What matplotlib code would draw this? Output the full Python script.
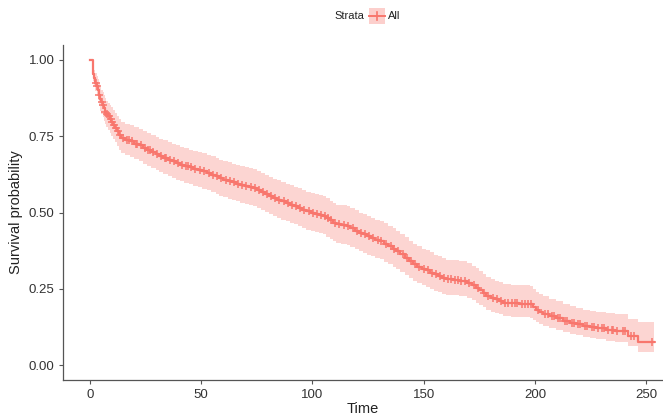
import numpy as np
import matplotlib
matplotlib.use("Agg")
import matplotlib.pyplot as plt
from matplotlib.patches import Rectangle
from matplotlib.lines import Line2D

plt.rcParams['font.family'] = ['Liberation Sans', 'DejaVu Sans']

# Kaplan-Meier estimate: step times, survival, CI band
event_time = [0, 1.5, 2.0, 2.4, 3.0, 3.7, 4.1, 4.5, 5.1, 5.7, 6.2, 6.7, 7.4, 8.1, 8.9, 9.7,
              10.4, 11.2, 12.2, 13.2, 14.2, 16.0, 18.0, 20.0, 22.0, 24.0, 25.5, 27.5, 29.5,
              31.0, 32.9, 35.0, 37.0, 38.8, 40.4, 42.5, 44.5, 46.5, 48.5, 50.5, 52.4, 54.5,
              56.5, 58.2, 59.9, 62.0, 64.0, 65.8, 67.4, 69.5, 71.5, 73.2, 74.9, 76.8, 78.5,
              80.5, 82.3, 84.2, 86.0, 88.0, 89.8, 91.5, 93.5, 95.5, 97.3, 99.2, 101.0, 103.0,
              104.8, 106.3, 107.8, 109.3, 110.8, 113.0, 115.3, 117.0, 119.0, 121.0, 122.7,
              124.5, 126.5, 128.3, 130.2, 132.0, 134.0, 136.0, 137.7, 139.5, 141.5, 143.3,
              145.2, 147.0, 149.0, 151.0, 152.7, 154.5, 156.5, 158.3, 160.2, 163.0, 166.0,
              167.6, 169.5, 171.5, 173.6, 175.0, 176.5, 178.1, 180.0, 182.0, 184.0, 185.6,
              189.0, 193.0, 197.6, 199.0, 200.5, 202.0, 203.5, 206.5, 209.5, 212.5, 215.5,
              218.5, 221.5, 224.5, 227.5, 232.0, 236.0, 238.0, 241.7, 246.2, 253.3]
surv = [1.000, 0.954, 0.940, 0.926, 0.914, 0.902, 0.886, 0.871, 0.862, 0.853, 0.842, 0.831,
        0.823, 0.815, 0.806, 0.798, 0.788, 0.777, 0.766, 0.755, 0.744, 0.739, 0.733, 0.726,
        0.720, 0.712, 0.706, 0.699, 0.692, 0.686, 0.679, 0.673, 0.668, 0.662, 0.657, 0.652,
        0.648, 0.644, 0.640, 0.635, 0.630, 0.624, 0.619, 0.613, 0.608, 0.603, 0.599, 0.595,
        0.591, 0.587, 0.583, 0.579, 0.575, 0.568, 0.561, 0.554, 0.548, 0.542, 0.537, 0.531,
        0.526, 0.521, 0.515, 0.509, 0.504, 0.500, 0.496, 0.492, 0.488, 0.481, 0.474, 0.467,
        0.461, 0.458, 0.455, 0.448, 0.441, 0.434, 0.428, 0.422, 0.417, 0.411, 0.406, 0.398,
        0.390, 0.382, 0.374, 0.363, 0.352, 0.341, 0.330, 0.323, 0.316, 0.310, 0.303, 0.297,
        0.292, 0.286, 0.281, 0.279, 0.277, 0.276, 0.269, 0.262, 0.254, 0.245, 0.236, 0.226,
        0.220, 0.215, 0.210, 0.205, 0.203, 0.201, 0.199, 0.190, 0.182, 0.174, 0.167, 0.160,
        0.153, 0.146, 0.139, 0.134, 0.129, 0.124, 0.120, 0.116, 0.113, 0.112, 0.096, 0.076,
        0.076]
lower = [1.000, 0.930, 0.913, 0.897, 0.882, 0.868, 0.850, 0.834, 0.823, 0.813, 0.801, 0.789,
         0.780, 0.771, 0.761, 0.752, 0.741, 0.730, 0.718, 0.706, 0.695, 0.689, 0.682, 0.675,
         0.668, 0.660, 0.653, 0.646, 0.638, 0.632, 0.625, 0.618, 0.613, 0.607, 0.602, 0.596,
         0.592, 0.588, 0.584, 0.578, 0.573, 0.567, 0.561, 0.555, 0.550, 0.545, 0.541, 0.537,
         0.532, 0.528, 0.524, 0.520, 0.516, 0.509, 0.502, 0.495, 0.489, 0.483, 0.477, 0.471,
         0.466, 0.461, 0.455, 0.449, 0.444, 0.440, 0.436, 0.432, 0.428, 0.421, 0.414, 0.407,
         0.401, 0.398, 0.395, 0.388, 0.381, 0.374, 0.368, 0.362, 0.357, 0.351, 0.346, 0.339,
         0.331, 0.323, 0.315, 0.305, 0.294, 0.284, 0.274, 0.268, 0.261, 0.256, 0.250, 0.244,
         0.240, 0.234, 0.230, 0.228, 0.226, 0.225, 0.219, 0.212, 0.205, 0.197, 0.189, 0.180,
         0.175, 0.170, 0.166, 0.161, 0.159, 0.157, 0.155, 0.147, 0.140, 0.133, 0.127, 0.121,
         0.115, 0.109, 0.102, 0.097, 0.093, 0.088, 0.084, 0.080, 0.077, 0.076, 0.061, 0.044,
         0.044]
upper = [1.000, 0.979, 0.968, 0.957, 0.947, 0.937, 0.923, 0.910, 0.902, 0.894, 0.884, 0.874,
         0.867, 0.860, 0.852, 0.845, 0.836, 0.826, 0.816, 0.806, 0.796, 0.791, 0.786, 0.780,
         0.774, 0.767, 0.761, 0.755, 0.748, 0.742, 0.736, 0.730, 0.725, 0.720, 0.715, 0.710,
         0.706, 0.702, 0.698, 0.694, 0.689, 0.684, 0.679, 0.673, 0.668, 0.664, 0.660, 0.656,
         0.652, 0.648, 0.645, 0.641, 0.637, 0.631, 0.624, 0.617, 0.611, 0.605, 0.600, 0.594,
         0.589, 0.585, 0.579, 0.573, 0.568, 0.564, 0.560, 0.557, 0.553, 0.546, 0.539, 0.532,
         0.526, 0.523, 0.520, 0.514, 0.507, 0.500, 0.494, 0.488, 0.483, 0.477, 0.472, 0.465,
         0.457, 0.449, 0.441, 0.430, 0.419, 0.408, 0.397, 0.390, 0.382, 0.376, 0.369, 0.362,
         0.357, 0.351, 0.345, 0.343, 0.341, 0.340, 0.333, 0.325, 0.317, 0.307, 0.298, 0.288,
         0.282, 0.276, 0.271, 0.266, 0.264, 0.262, 0.260, 0.250, 0.241, 0.232, 0.225, 0.217,
         0.209, 0.201, 0.194, 0.188, 0.182, 0.177, 0.173, 0.169, 0.167, 0.166, 0.150, 0.140,
         0.140]

# censored observations (drawn as "+")
censor_time = [2.6, 3.3, 4.3, 5.4, 6.0, 7.0, 7.8, 8.5, 9.3, 10.0, 10.8, 11.7, 12.7, 13.7,
               15.0, 16.8, 17.5, 19.0, 20.5, 21.2, 23.0, 24.6, 26.3, 27.0, 28.4, 30.2, 31.8,
               33.7, 34.3, 36.0, 37.8, 39.5, 41.3, 43.4, 44.0, 45.6, 47.2, 49.5, 51.3, 53.4,
               55.2, 57.3, 59.0, 61.0, 62.8, 64.6, 66.5, 68.4, 70.3, 72.4, 74.1, 75.8, 77.6,
               79.4, 81.3, 83.2, 85.0, 87.1, 88.9, 90.6, 92.4, 94.6, 96.4, 98.3, 100.1, 102.0,
               103.9, 105.5, 107.0, 108.5, 110.0, 112.1, 114.0, 116.1, 118.0, 120.0, 121.8,
               123.6, 125.5, 127.4, 129.3, 131.0, 133.0, 135.1, 136.8, 138.6, 140.5, 142.4,
               144.1, 146.1, 148.0, 150.0, 151.8, 153.6, 155.5, 157.4, 159.2, 161.0, 162.2,
               164.0, 165.2, 166.8, 168.5, 170.4, 172.5, 174.3, 177.3, 179.0, 181.0, 183.0,
               184.8, 186.5, 187.8, 189.5, 190.8, 192.0, 194.0, 195.5, 196.8, 198.2, 201.2,
               204.5, 205.8, 207.5, 208.4, 210.5, 211.4, 213.5, 214.4, 216.6, 217.5, 219.5,
               220.4, 222.6, 223.5, 225.6, 226.5, 228.5, 230.0, 231.0, 233.0, 234.5, 235.2,
               237.0, 239.5, 240.5, 243.0, 244.5, 252.7]

x_ticks = [0, 50, 100, 150, 200, 250]
y_ticks = [0.00, 0.25, 0.50, 0.75, 1.00]
strata_label = "All"

red = "#F8766D"
text_col = "#333333"

fig = plt.figure(figsize=(6.63, 4.15), dpi=100)
ax = fig.add_axes([0.0946, 0.0836, 0.9054, 0.8087])

# confidence band + curve
ax.fill_between(event_time, lower, upper, step="post", color=red, alpha=0.3, linewidth=0)
ax.step(event_time, surv, where="post", color=red, linewidth=1.6)

# censor marks at the survival level of their time
idx = np.searchsorted(event_time, censor_time, side="right") - 1
censor_surv = np.array(surv)[idx]
ax.plot(censor_time, censor_surv, linestyle="none", marker="+", color=red,
        markersize=5.5, markeredgewidth=1.1)

ax.set_xlim(-12.2, 257.5)
ax.set_ylim(-0.05, 1.05)
ax.set_xticks(x_ticks)
ax.set_yticks(y_ticks)
ax.set_yticklabels([f"{v:.2f}" for v in y_ticks])

for side in ["top", "right"]:
    ax.spines[side].set_visible(False)
for side in ["left", "bottom"]:
    ax.spines[side].set_color("#555555")
    ax.spines[side].set_linewidth(0.9)
ax.tick_params(axis="both", direction="out", length=3, width=0.8, color="#555555",
               labelsize=9.5, labelcolor=text_col, pad=3)

ax.set_xlabel("Time", fontsize=10.5, color="#222222", labelpad=1)
ax.set_ylabel("Survival probability", fontsize=10.5, color="#222222", labelpad=4)

# legend on top: "Strata  [+] All"
W, H = 663, 415
fig.text(364 / W, 1 - 16 / H, "Strata", ha="right", va="center", fontsize=8, color="#222222")
fig.add_artist(Rectangle((369 / W, 1 - 24 / H), 16 / W, 16 / H, transform=fig.transFigure,
                         facecolor=red, alpha=0.35, edgecolor="none"))
fig.add_artist(Line2D([369 / W, 385 / W], [1 - 16 / H, 1 - 16 / H], transform=fig.transFigure,
                      color=red, linewidth=1.4))
fig.add_artist(Line2D([377 / W, 377 / W], [1 - 12 / H, 1 - 20 / H], transform=fig.transFigure,
                      color=red, linewidth=1.2))
fig.text(388 / W, 1 - 16 / H, strata_label, ha="left", va="center", fontsize=8, color="#222222")

fig.savefig("out.png", dpi=100)
plt.close(fig)
